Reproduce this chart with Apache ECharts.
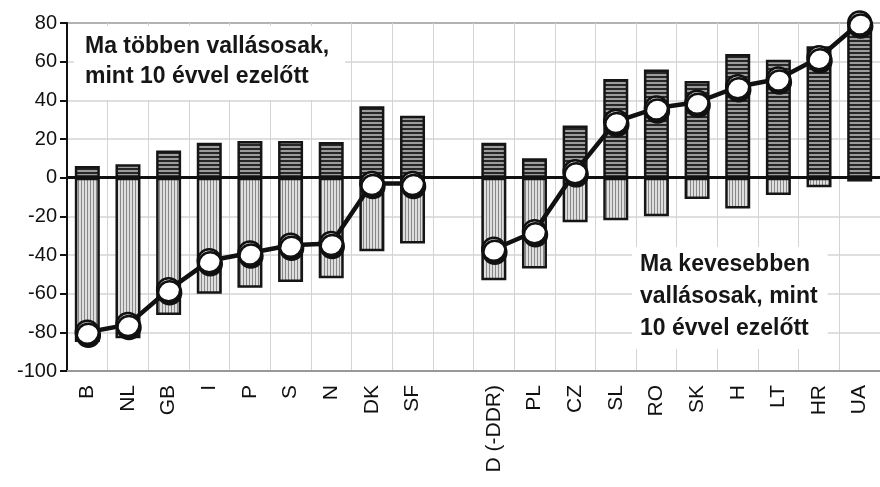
<!DOCTYPE html>
<html>
<head>
<meta charset="utf-8">
<script src="https://cdn.jsdelivr.net/npm/echarts@6/dist/echarts.min.js"></script>
<style>
  html, body { margin: 0; padding: 0; background: #fff; }
  #chart { width: 880px; height: 487px; }
</style>
</head>
<body>
<div id="chart"></div>
<script>
// countries (empty slot = gap between west and east)
const countries = ['B', 'NL', 'GB', 'I', 'P', 'S', 'N', 'DK', 'SF', '',
  'D (-DDR)', 'PL', 'CZ', 'SL', 'RO', 'SK', 'H', 'LT', 'HR', 'UA'];
// more religious than 10 years ago
const moreReligious = [6, 7, 14, 18, 19, 19, 18.5, 37, 32, null,
  18, 10, 27, 51, 56, 50, 64, 61, 68, 80];
// less religious than 10 years ago
const lessReligious = [-85, -83, -71, -60, -57, -54, -52, -38, -34, null,
  -53, -47, -23, -22, -20, -11, -16, -9, -5, -2];
// balance
const balance = [-80, -76, -58, -43, -39, -35, -34, -3, -3, null,
  -37, -28, 3, 29, 36, 39, 47, 51, 62, 80];
const yTicks = [-100, -80, -60, -40, -20, 0, 20, 40, 60, 80];

function stripes(horizontal) {
    let c = document.createElement('canvas');
    let ctx = c.getContext('2d');
    if (horizontal) {
        c.width = 4; c.height = 4;
        ctx.fillStyle = '#262626';
        ctx.fillRect(0, 0, 4, 4);
        ctx.fillStyle = '#9c9c9c';
        ctx.fillRect(0, 2, 4, 2);
    } else {
        c.width = 3; c.height = 3;
        ctx.fillStyle = '#dedede';
        ctx.fillRect(0, 0, 3, 3);
        ctx.fillStyle = '#888';
        ctx.fillRect(0, 0, 1, 3);
    }
    return { image: c, repeat: 'repeat' };
}

let chart = echarts.init(document.getElementById('chart'));
const font = 'Liberation Sans, Arial, sans-serif';

chart.setOption({
    animation: false,
    grid: { left: 67, right: -11, top: 23, bottom: 116 },
    title: [
        {
            text: 'Ma többen vallásosak,\nmint 10 évvel ezelőtt',
            left: 74, top: 26,
            padding: [6, 16, 8, 11],
            backgroundColor: '#fff',
            textStyle: { fontFamily: font, fontSize: 23, fontWeight: 'bold', color: '#161616', lineHeight: 30 }
        },
        {
            text: 'Ma kevesebben\nvallásosak, mint\n10 évvel ezelőtt',
            left: 632, top: 247,
            padding: [2, 10, 4, 8],
            backgroundColor: '#fff',
            textStyle: { fontFamily: font, fontSize: 23, fontWeight: 'bold', color: '#161616', lineHeight: 32 }
        }
    ],
    xAxis: {
        type: 'category',
        data: countries,
        boundaryGap: true,
        axisLine: { onZero: false, lineStyle: { color: '#999', width: 2 } },
        axisTick: { show: false },
        splitLine: { show: true, lineStyle: { color: '#d4d4d4', width: 1 } },
        axisLabel: {
            interval: 0, rotate: 90, margin: 14,
            fontFamily: font, fontSize: 21, color: '#111'
        }
    },
    yAxis: {
        type: 'value',
        min: yTicks[0], max: yTicks[yTicks.length - 1], interval: 20,
        axisLine: { show: true, lineStyle: { color: '#111', width: 2 } },
        axisTick: { show: true, inside: false, length: 7, lineStyle: { color: '#111', width: 2 } },
        axisLabel: { fontFamily: font, fontSize: 20, color: '#111', margin: 10 },
        splitLine: {
            lineStyle: {
                color: ['#999', '#d4d4d4', '#d4d4d4', '#d4d4d4', '#d4d4d4', '#d4d4d4',
                    '#d4d4d4', '#d4d4d4', '#d4d4d4', '#999'],
                width: 1.5
            }
        }
    },
    series: [
        {
            name: 'több',
            type: 'bar',
            stack: 'v',
            data: moreReligious,
            barWidth: 25,
            itemStyle: { color: stripes(true), borderColor: '#151515', borderWidth: 2.5 },
            markLine: {
                silent: true,
                symbol: 'none',
                label: { show: false },
                lineStyle: { color: '#111', width: 3, type: 'solid' },
                data: [{ yAxis: 0 }]
            }
        },
        {
            name: 'kevesebb',
            type: 'bar',
            stack: 'v',
            data: lessReligious,
            barWidth: 25,
            itemStyle: { color: stripes(false), borderColor: '#151515', borderWidth: 2.5 }
        },
        {
            name: 'egyenleg',
            type: 'line',
            z: 5,
            data: balance,
            connectNulls: false,
            symbol: 'circle',
            symbolSize: 23,
            lineStyle: { color: '#111', width: 4.5 },
            itemStyle: {
                color: '#fff', borderColor: '#111', borderWidth: 2.5,
                shadowColor: '#111', shadowOffsetX: 1, shadowOffsetY: 3, shadowBlur: 0
            }
        }
    ]
});
</script>
</body>
</html>
